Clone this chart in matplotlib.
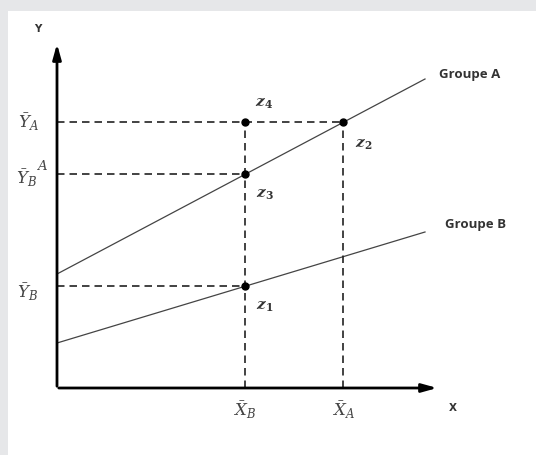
import matplotlib
matplotlib.use("Agg")
import matplotlib.pyplot as plt

# schematic values (arbitrary units)
x_means = [18.8, 28.6]            # X_B, X_A
x_labels = [r"$\bar{X}_B$", r"$\bar{X}_A$"]
y_means = [10.2, 21.4, 26.6]      # Y_B, Y_B^A, Y_A
y_labels = [r"$\bar{Y}_B$", r"$\bar{Y}_B$", r"$\bar{Y}_A$"]

line_a_x = [0, 36.8]
line_a_y = [11.4, 30.9]
line_b_x = [0, 36.8]
line_b_y = [4.5, 15.6]

# points: (X_B, Y_B), (X_B, Y_B^A), (X_A, Y_A), (X_B, Y_A)
pts_x = [18.8, 18.8, 28.6, 18.8]
pts_y = [10.2, 21.4, 26.6, 26.6]

z_labels = ["1", "3", "2", "4"]
z_x = [20.8, 20.8, 30.7, 20.7]
z_y = [8.2, 19.4, 24.4, 28.5]

plt.rcParams["mathtext.fontset"] = "dejavuserif"

fig = plt.figure(figsize=(5.36, 4.55), dpi=100)
fig.patch.set_facecolor("#e6e7e9")
ax = fig.add_axes([8 / 536, 0, 528 / 536, 444 / 455])
ax.set_facecolor("white")
ax.set_xlim(-4.9, 47.9)
ax.set_ylim(-6.7, 37.7)
for s in ax.spines.values():
    s.set_visible(False)
ax.set_xticks([])
ax.set_yticks([])

ink = "#222222"

# axes with arrows
ax.annotate("", xy=(0, 34.7), xytext=(0, -0.1),
            arrowprops=dict(arrowstyle="-|>,head_length=0.9,head_width=0.25", lw=2, color="black"))
ax.annotate("", xy=(38.3, 0), xytext=(-0.1, 0),
            arrowprops=dict(arrowstyle="-|>,head_length=0.9,head_width=0.25", lw=2, color="black"))
ax.text(-1.9, 35.9, "Y", fontsize=7.5, fontweight="bold", ha="center", va="center", color="#333333")
ax.text(39.6, -2.0, "X", fontsize=7.5, fontweight="bold", ha="center", va="center", color="#333333")

# group lines
ax.plot(line_a_x, line_a_y, color="#444444", lw=0.9)
ax.plot(line_b_x, line_b_y, color="#444444", lw=0.9)
ax.text(41.3, 31.4, "Groupe A", fontsize=9.5, fontweight="bold", family="Open Sans",
        ha="center", va="center", color="#333333")
ax.text(41.9, 16.4, "Groupe B", fontsize=9.5, fontweight="bold", family="Open Sans",
        ha="center", va="center", color="#333333")

# dashed guides
dash = dict(color=ink, lw=1.2, linestyle=(0, (4.5, 3)))
ax.plot([0, x_means[0]], [y_means[0], y_means[0]], **dash)
ax.plot([0, x_means[0]], [y_means[1], y_means[1]], **dash)
ax.plot([0, x_means[1]], [y_means[2], y_means[2]], **dash)
ax.plot([x_means[0], x_means[0]], [0, y_means[2]], **dash)
ax.plot([x_means[1], x_means[1]], [0, y_means[2]], **dash)

ax.plot(pts_x, pts_y, "o", color="black", markersize=5, zorder=5)

for xv, lab in zip(x_means, x_labels):
    ax.text(xv, -2.2, lab, fontsize=12, ha="center", va="center", color="#444444")
ax.text(-2.9, y_means[0] - 0.6, y_labels[0], fontsize=12, ha="center", va="center", color="#444444")
ax.text(-3.0, y_means[1] - 0.4, y_labels[1], fontsize=12, ha="center", va="center", color="#444444")
ax.text(-1.5, y_means[1] + 0.8, r"$A$", fontsize=9.5, ha="center", va="center", color="#444444")
ax.text(-2.9, y_means[2], y_labels[2], fontsize=12, ha="center", va="center", color="#444444")

for xv, yv, k in zip(z_x, z_y, z_labels):
    ax.text(xv, yv, r"$\boldsymbol{z}_{\mathbf{" + k + "}}$", fontsize=11,
            ha="center", va="center", color="#333333")

fig.savefig("out.png", dpi=100, facecolor=fig.get_facecolor())
